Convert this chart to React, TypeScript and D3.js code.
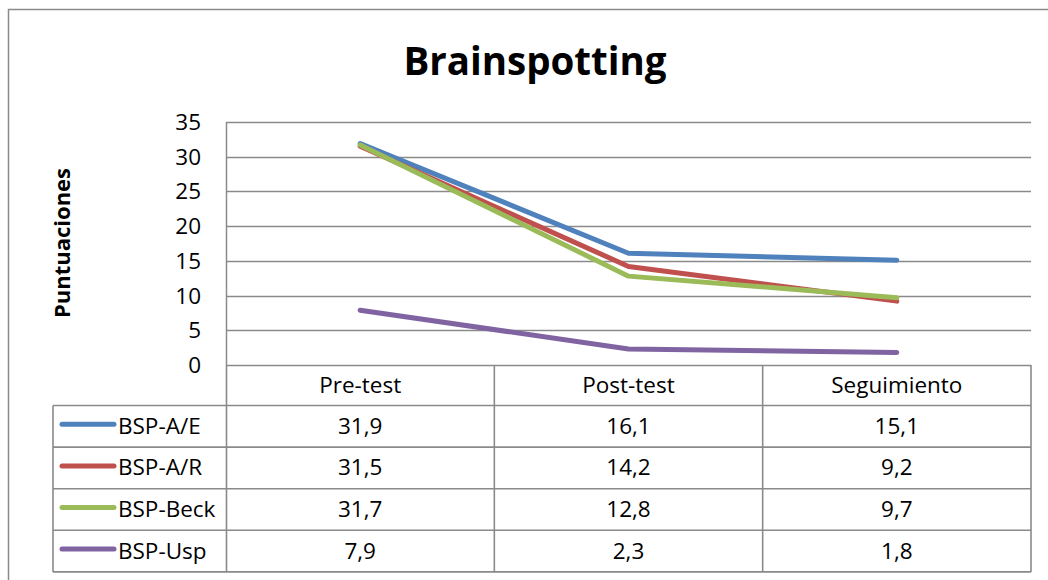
import React, { useEffect, useRef } from "react";
import * as d3 from "d3";

const categories = ["Pre-test", "Post-test", "Seguimiento"];
const seriesNames = ["BSP-A/E", "BSP-A/R", "BSP-Beck", "BSP-Usp"];
const seriesColors = ["#4F81BD", "#C0504D", "#9BBB59", "#8064A2"];
const valuesAE = [31.9, 16.1, 15.1];
const valuesAR = [31.5, 14.2, 9.2];
const valuesBeck = [31.7, 12.8, 9.7];
const valuesUsp = [7.9, 2.3, 1.8];
const yTicks = [0, 5, 10, 15, 20, 25, 30, 35];
const title = "Brainspotting";
const yLabel = "Puntuaciones";

const allValues = [valuesAE, valuesAR, valuesBeck, valuesUsp];
const FONT = "'Open Sans', Lato, sans-serif";

export default function App() {
  const ref = useRef<SVGSVGElement | null>(null);

  useEffect(() => {
    const svg = d3.select(ref.current);
    svg.selectAll("*").remove();

    const W = 1048, H = 580;
    const left = 226, right = 1031, top = 122, bottom = 365;
    const tableLeft = 53;
    const headerH = 40.5;
    const rowH = 41.6;
    const grid = "#8a8a8a";
    const fs = 22.5;

    const x = d3.scaleBand().domain(categories).range([left, right]).padding(0);
    const y = d3.scaleLinear().domain([0, 35]).range([bottom, top]);

    // outer border
    svg.append("rect").attr("x", 8.5).attr("y", 9.5).attr("width", W + 20).attr("height", H + 20)
      .attr("fill", "#fff").attr("stroke", grid).attr("stroke-width", 1.5);

    // title
    svg.append("text").attr("x", 535).attr("y", 75).attr("text-anchor", "middle")
      .attr("font-family", FONT).attr("font-weight", "bold").attr("font-size", 38.5)
      .attr("fill", "#000").text(title);

    // y label
    svg.append("text").attr("transform", `translate(70,243) rotate(-90)`).attr("text-anchor", "middle")
      .attr("font-family", FONT).attr("font-weight", "bold").attr("font-size", 22)
      .attr("fill", "#000").text(yLabel);

    // gridlines
    svg.append("g").selectAll("line").data(yTicks.filter(t => t > 0)).join("line")
      .attr("x1", left).attr("x2", right)
      .attr("y1", d => Math.round(y(d)) + 0.5).attr("y2", d => Math.round(y(d)) + 0.5)
      .attr("stroke", grid).attr("stroke-width", 1.3);

    // y axis line
    svg.append("line").attr("x1", left + 0.5).attr("x2", left + 0.5).attr("y1", top).attr("y2", bottom)
      .attr("stroke", grid).attr("stroke-width", 1.5);

    // tick labels
    svg.append("g").selectAll("text").data(yTicks).join("text")
      .attr("x", 201).attr("y", d => y(d) + 8).attr("text-anchor", "end")
      .attr("font-family", FONT).attr("font-size", fs).attr("fill", "#000")
      .text(d => String(d));

    // table
    const tbl = svg.append("g").attr("stroke", grid).attr("stroke-width", 1.6).attr("fill", "none");
    const tableBottom = bottom + headerH + rowH * seriesNames.length;
    tbl.append("line").attr("x1", left).attr("x2", right).attr("y1", bottom + 0.5).attr("y2", bottom + 0.5);
    for (let i = 0; i <= seriesNames.length; i++) {
      const yy = bottom + headerH + rowH * i;
      tbl.append("line").attr("x1", tableLeft).attr("x2", right).attr("y1", yy).attr("y2", yy);
    }
    tbl.append("line").attr("x1", tableLeft).attr("x2", tableLeft).attr("y1", bottom + headerH).attr("y2", tableBottom);
    tbl.append("line").attr("x1", left + 0.5).attr("x2", left + 0.5).attr("y1", bottom).attr("y2", tableBottom);
    categories.forEach(c => {
      const xr = (x(c) as number) + x.bandwidth();
      tbl.append("line").attr("x1", xr).attr("x2", xr).attr("y1", bottom).attr("y2", tableBottom);
    });

    // header labels
    svg.append("g").selectAll("text").data(categories).join("text")
      .attr("x", d => (x(d) as number) + x.bandwidth() / 2).attr("y", bottom + 28)
      .attr("text-anchor", "middle").attr("font-family", FONT).attr("font-size", fs).attr("fill", "#000")
      .text(d => d);

    // rows
    seriesNames.forEach((name, i) => {
      const cy = bottom + headerH + rowH * i + rowH / 2;
      svg.append("line").attr("x1", 62).attr("x2", 114).attr("y1", cy - 2).attr("y2", cy - 2)
        .attr("stroke", seriesColors[i]).attr("stroke-width", 5).attr("stroke-linecap", "round");
      svg.append("text").attr("x", 118).attr("y", cy + 7.5).attr("font-family", FONT).attr("font-size", fs)
        .attr("fill", "#000").text(name);
      categories.forEach((c, j) => {
        svg.append("text").attr("x", (x(c) as number) + x.bandwidth() / 2).attr("y", cy + 7.5)
          .attr("text-anchor", "middle").attr("font-family", FONT).attr("font-size", fs).attr("fill", "#000")
          .text(String(allValues[i][j]).replace(".", ","));
      });
    });

    // lines
    const line = d3.line<number>()
      .x((_, j) => (x(categories[j]) as number) + x.bandwidth() / 2)
      .y(d => y(d));
    allValues.forEach((vals, i) => {
      svg.append("path").attr("d", line(vals) as string).attr("fill", "none")
        .attr("stroke", seriesColors[i]).attr("stroke-width", 5)
        .attr("stroke-linecap", "round").attr("stroke-linejoin", "round");
    });
  }, []);

  return (
    <svg ref={ref} width={1048} height={580}
      style={{ position: "absolute", left: 0, top: 0, background: "#fff" }} />
  );
}
